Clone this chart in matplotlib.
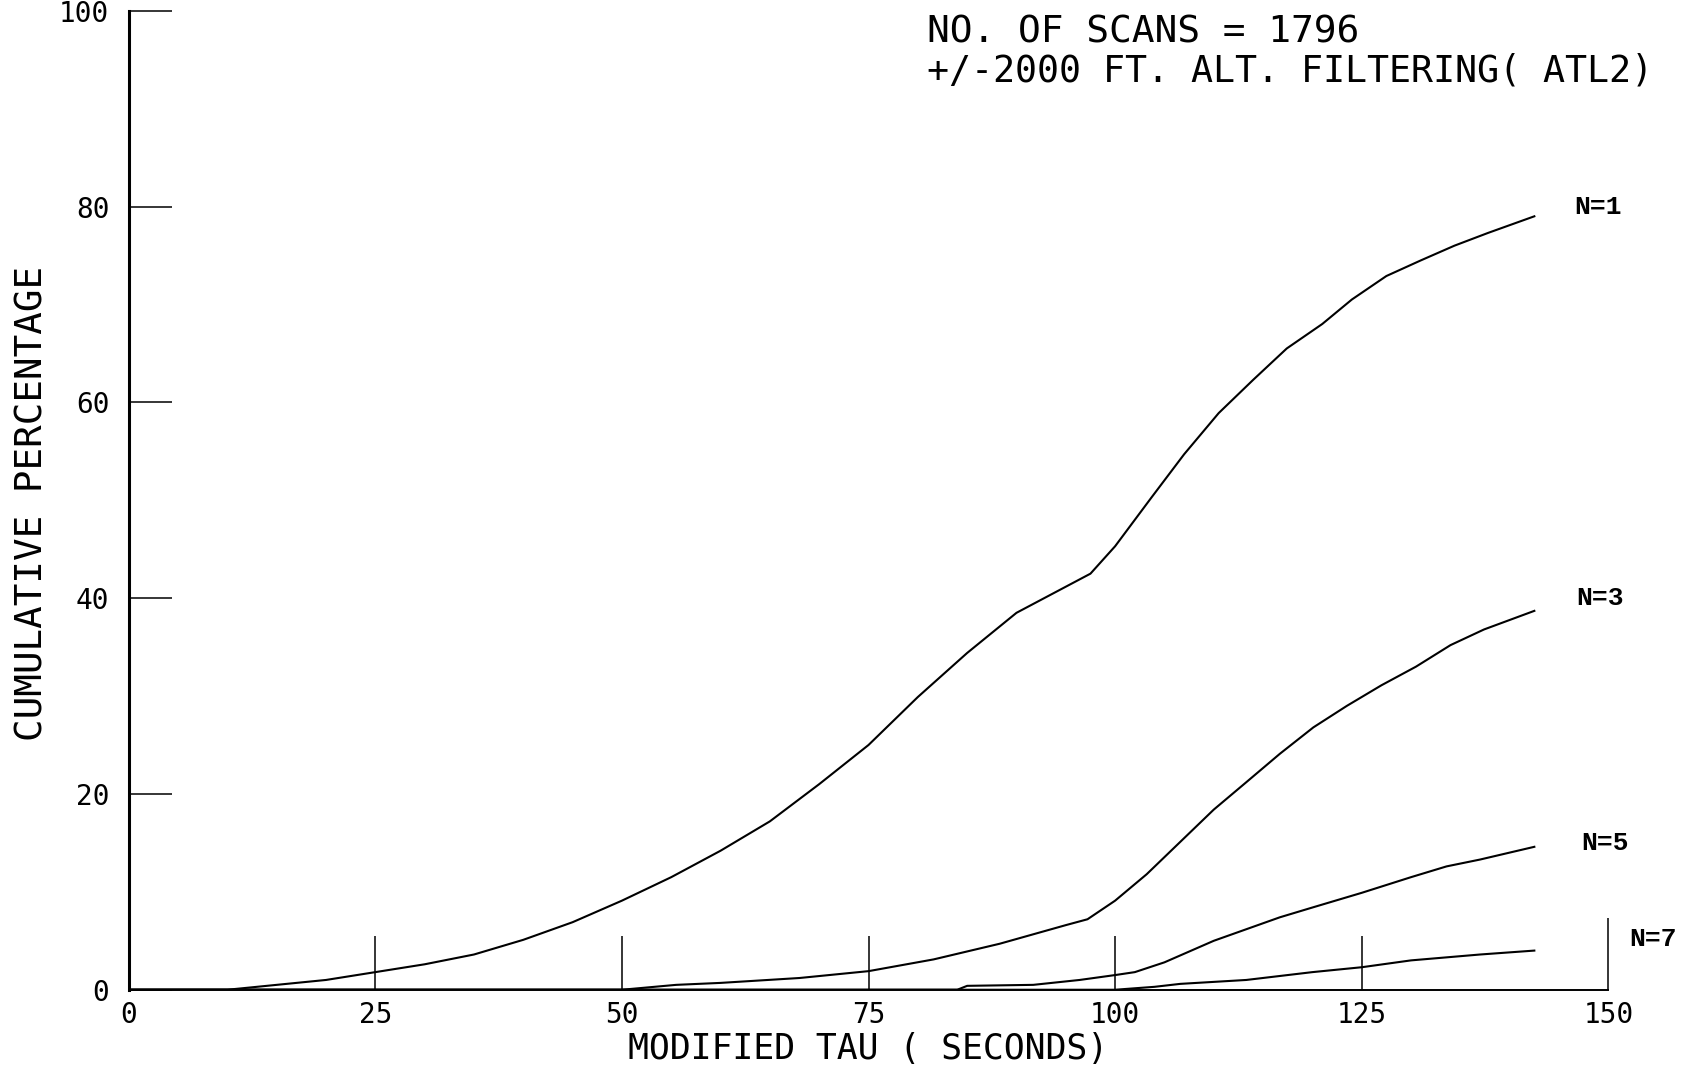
import matplotlib
matplotlib.use("Agg")
import matplotlib.pyplot as plt

# Cumulative percentage vs modified tau
tau_n1 = [0, 10, 14, 20, 25, 30, 35, 40, 45, 50, 55, 60, 65, 70, 75, 80, 85, 90, 97.5,
          100, 103.7, 107, 110.5, 114, 117.4, 121, 124, 127.5, 131, 134.4, 137.8, 142.5]
pct_n1 = [0, 0, 0.4, 1.0, 1.8, 2.6, 3.6, 5.1, 6.9, 9.1, 11.5, 14.2, 17.2, 21.0, 25.0, 29.9, 34.4, 38.5, 42.5,
          45.3, 50.3, 54.7, 58.9, 62.3, 65.5, 68.0, 70.5, 72.9, 74.5, 76.0, 77.3, 79.0]

tau_n3 = [0, 50, 55.5, 60, 68, 75, 81.6, 88.3, 95, 97.2, 100, 103.2, 106.6, 110, 113.3,
          116.7, 120.1, 123.5, 127, 130.5, 134, 137.4, 142.5]
pct_n3 = [0, 0, 0.5, 0.7, 1.2, 1.9, 3.1, 4.7, 6.6, 7.2, 9.1, 11.8, 15.1, 18.4, 21.2,
          24.1, 26.8, 29.0, 31.1, 33.0, 35.2, 36.8, 38.7]

tau_n5 = [0, 84, 85, 91.7, 96.4, 100, 102, 105, 110, 116.7, 120, 125, 130, 133.6, 137, 142.5]
pct_n5 = [0, 0, 0.4, 0.5, 1.0, 1.5, 1.8, 2.8, 5.0, 7.4, 8.4, 9.9, 11.5, 12.6, 13.3, 14.6]

tau_n7 = [0, 100, 104, 106.6, 113.3, 120, 125, 130, 137, 142.5]
pct_n7 = [0, 0, 0.3, 0.6, 1.0, 1.8, 2.3, 3.0, 3.6, 4.0]

curve_labels = ["N=1", "N=3", "N=5", "N=7"]
label_pos = [(149.0, 80.0), (149.2, 40.0), (149.7, 15.0), (154.5, 5.2)]

x_ticks = [0, 25, 50, 75, 100, 125, 150]
y_ticks = [0, 20, 40, 60, 80, 100]

header = ["NO. OF SCANS = 1796", "+/-2000 FT. ALT. FILTERING( ATL2)"]

# plotter-style lettering: evenly spaced, so a monospaced face is closest
plot_font = "DejaVu Sans Mono"

fig = plt.figure(figsize=(16.96, 10.70), dpi=100)
ax = fig.add_axes([0.0759, 0.075, 0.8724, 0.915])

for t, p in [(tau_n1, pct_n1), (tau_n3, pct_n3), (tau_n5, pct_n5), (tau_n7, pct_n7)]:
    ax.plot(t, p, color="black", lw=1.5)

for lab, (x, y) in zip(curve_labels, label_pos):
    ax.text(x, y, lab, family="Liberation Mono", weight="bold", fontsize=19,
            ha="center", va="center")

ax.set_xlim(0, 150)
ax.set_ylim(0, 100)
ax.spines["top"].set_visible(False)
ax.spines["right"].set_visible(False)
ax.spines["left"].set_linewidth(2.2)
ax.spines["bottom"].set_linewidth(1.4)

ax.set_xticks(x_ticks)
ax.set_yticks(y_ticks)
ax.tick_params(axis="x", direction="in", length=39, width=1.1, pad=8, labelsize=20)
ax.tick_params(axis="y", direction="in", length=31, width=1.1, pad=14, labelsize=20)
for lab in ax.get_xticklabels() + ax.get_yticklabels():
    lab.set_family(plot_font)
# the tick at 150 is drawn taller than the others
ax.xaxis.get_major_ticks()[-1].tick1line.set_markersize(52)

ax.set_xlabel("MODIFIED TAU ( SECONDS)", family=plot_font, fontsize=25, va="center")
ax.xaxis.set_label_coords(0.5, -0.0606)
ax.set_ylabel("CUMULATIVE PERCENTAGE", family=plot_font, fontsize=27, va="center")
ax.yaxis.set_label_coords(-0.0651, 0.497)

fig.text(0.5466, 0.9697, header[0], family=plot_font, fontsize=27.3, va="center")
fig.text(0.5466, 0.9333, header[1], family=plot_font, fontsize=26.4, va="center")

fig.savefig("out.png", dpi=100)
